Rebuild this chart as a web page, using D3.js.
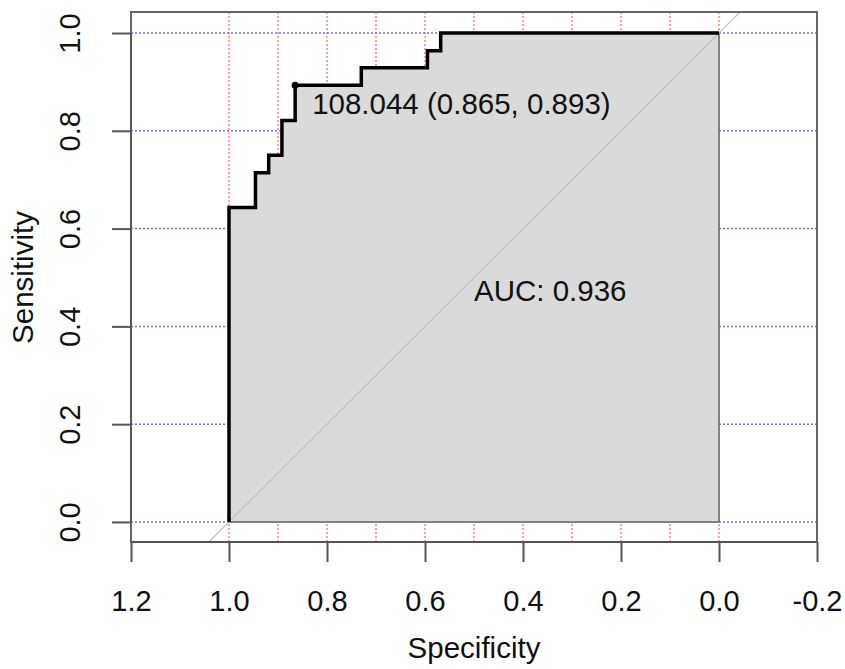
<!DOCTYPE html>
<html>
<head>
<meta charset="utf-8">
<script src="https://cdn.jsdelivr.net/npm/d3@7"></script>
<style>
  body { margin: 0; background: #fff; }
  text { font-family: "Liberation Sans", Arial, sans-serif; fill: #111; }
</style>
</head>
<body>
<svg class="chart"></svg>
<script>
// ROC curve (pROC style plot)

// data
let specificity = [1.000, 1.000, 0.946, 0.946, 0.919, 0.919, 0.892, 0.892, 0.865, 0.865, 0.730, 0.730, 0.595, 0.595, 0.568, 0.568, 0.000];
let sensitivity = [0.000, 0.643, 0.643, 0.714, 0.714, 0.750, 0.750, 0.821, 0.821, 0.893, 0.893, 0.929, 0.929, 0.964, 0.964, 1.000, 1.000];
let xTicks = [1.2, 1.0, 0.8, 0.6, 0.4, 0.2, 0.0, -0.2];
let yTicks = [0.0, 0.2, 0.4, 0.6, 0.8, 1.0];
let xGrid = [1.0, 0.9, 0.8, 0.7, 0.6, 0.5, 0.4, 0.3, 0.2, 0.1, 0.0];
let yGrid = [0.0, 0.2, 0.4, 0.6, 0.8, 1.0];
let best = { thr: "108.044", spec: 0.865, sens: 0.893 };
let aucValue = "0.936";

let width = 845, height = 669;
let margin = { top: 12, right: 28, bottom: 127, left: 131 };
let w = width - margin.left - margin.right;
let h = height - margin.top - margin.bottom;

let points = specificity.map((s, i) => ({ spec: s, sens: sensitivity[i] }));

// scales (x reversed like pROC)
let x = d3.scaleLinear().domain([1.2, -0.2]).range([0, w]);
let y = d3.scaleLinear().domain([-0.041, 1.043]).range([h, 0]);
let fmt = d => d.toFixed(1); // plain hyphen for negatives

let svg = d3.select(".chart")
  .attr("width", width)
  .attr("height", height);

let chart = svg.append("g")
  .attr("transform", "translate(" + margin.left + "," + margin.top + ")");

// grid lines
chart.selectAll(".vgrid")
  .data(xGrid)
  .enter().append("line")
  .attr("x1", d => x(d)).attr("x2", d => x(d))
  .attr("y1", 0).attr("y2", h)
  .style("stroke", "#ff8080")
  .style("stroke-width", 1.5)
  .style("stroke-dasharray", "2,2");

chart.selectAll(".hgrid")
  .data(yGrid)
  .enter().append("line")
  .attr("x1", 0).attr("x2", w)
  .attr("y1", d => y(d)).attr("y2", d => y(d))
  .style("stroke", "#7070ff")
  .style("stroke-width", 1.5)
  .style("stroke-dasharray", "2,2");

// auc polygon
let poly = points.concat([{ spec: 0, sens: 0 }]);
chart.append("path")
  .datum(poly)
  .attr("d", d3.line().x(d => x(d.spec)).y(d => y(d.sens)).curve(d3.curveLinearClosed))
  .style("fill", "#dadada")
  .style("stroke", "#666")
  .style("stroke-width", 1.5);

// chance diagonal, clipped to the box
chart.append("clipPath").attr("id", "clip")
  .append("rect").attr("width", w).attr("height", h);

chart.append("line")
  .attr("clip-path", "url(#clip)")
  .attr("x1", x(1.2)).attr("y1", y(-0.2))
  .attr("x2", x(-0.2)).attr("y2", y(1.2))
  .style("stroke", "#bdbdbd")
  .style("stroke-width", 1.2);

// roc curve
chart.append("path")
  .datum(points)
  .attr("d", d3.line().x(d => x(d.spec)).y(d => y(d.sens)))
  .style("fill", "none")
  .style("stroke", "#000")
  .style("stroke-width", 3.5)
  .style("stroke-linejoin", "miter");

// best threshold
chart.append("circle")
  .attr("cx", x(best.spec))
  .attr("cy", y(best.sens))
  .attr("r", 3.5)
  .style("fill", "#000");

chart.append("text")
  .attr("x", x(best.spec) + 17)
  .attr("y", y(best.sens) + 29)
  .style("font-size", "29.5px")
  .text(best.thr + " (" + best.spec.toFixed(3) + ", " + best.sens.toFixed(3) + ")");

chart.append("text")
  .attr("x", x(0.5))
  .attr("y", y(0.5) + 24)
  .style("font-size", "29.5px")
  .text("AUC: " + aucValue);

// box
chart.append("rect")
  .attr("width", w).attr("height", h)
  .style("fill", "none")
  .style("stroke", "#666")
  .style("stroke-width", 2);

// axes
let xAxis = chart.append("g")
  .attr("transform", "translate(0," + h + ")")
  .call(d3.axisBottom(x).tickValues(xTicks).tickFormat(fmt).tickSize(20).tickPadding(28));

let yAxis = chart.append("g")
  .call(d3.axisLeft(y).tickValues(yTicks).tickFormat(fmt).tickSize(19).tickPadding(0));

[xAxis, yAxis].forEach(a => {
  a.select(".domain").remove();
  a.selectAll(".tick line").style("stroke", "#555").style("stroke-width", 2);
  a.selectAll("text").style("font-size", "29px").style("fill", "#111")
    .style("font-family", "'Liberation Sans', Arial, sans-serif");
});

xAxis.append("line")
  .attr("x1", x(1.2)).attr("x2", x(-0.2))
  .style("stroke", "#555").style("stroke-width", 2);

yAxis.append("line")
  .attr("y1", y(0)).attr("y2", y(1))
  .style("stroke", "#555").style("stroke-width", 2);

// rotated y tick labels
yAxis.selectAll(".tick text")
  .attr("x", null).attr("dy", null)
  .attr("transform", "translate(-51,0) rotate(-90)")
  .style("text-anchor", "middle");

// axis titles
svg.append("text")
  .attr("x", margin.left + x(0.5))
  .attr("y", 658)
  .style("text-anchor", "middle")
  .style("font-size", "29.5px")
  .text("Specificity");

svg.append("text")
  .attr("transform", "translate(33," + (margin.top + y(0.5)) + ") rotate(-90)")
  .style("text-anchor", "middle")
  .style("font-size", "29.5px")
  .text("Sensitivity");
</script>
</body>
</html>
